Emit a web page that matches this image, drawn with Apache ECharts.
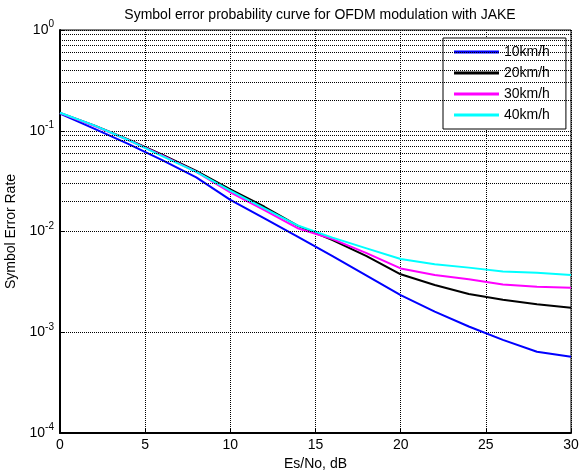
<!DOCTYPE html>
<html>
<head>
<meta charset="utf-8">
<script src="https://cdn.jsdelivr.net/npm/echarts@6/dist/echarts.min.js"></script>
<style>
  html, body { margin: 0; padding: 0; background: #fff; }
  #main { width: 579px; height: 475px; }
</style>
</head>
<body>
<div id="main"></div>
<script>
  // Es/No (dB) sample points
  var snr = [0, 2, 4, 6, 8, 10, 12, 14, 16, 18, 20, 22, 24, 26, 28, 30];
  var ser10 = [0.148, 0.105, 0.074, 0.051, 0.0345, 0.0206, 0.0135, 0.0088, 0.0057, 0.00365, 0.00234, 0.0016, 0.00114, 0.00084, 0.00064, 0.00057];
  var ser20 = [0.150, 0.113, 0.082, 0.058, 0.040, 0.0262, 0.0176, 0.0113, 0.0082, 0.0057, 0.00376, 0.00294, 0.0024, 0.0021, 0.0019, 0.00175];
  var ser30 = [0.150, 0.112, 0.081, 0.057, 0.039, 0.0245, 0.0163, 0.0107, 0.0084, 0.0061, 0.0043, 0.0037, 0.00336, 0.00298, 0.00283, 0.00277];
  var ser40 = [0.151, 0.113, 0.081, 0.056, 0.039, 0.0254, 0.0170, 0.0114, 0.0087, 0.0068, 0.00533, 0.00472, 0.00438, 0.0040, 0.0039, 0.0037];
  var names = ['10km/h', '20km/h', '30km/h', '40km/h'];
  var colors = ['#0000ff', '#000000', '#ff00ff', '#00ffff'];

  // minor log grid lines (2..9 x each decade)
  var minorGrid = [];
  [1e-4, 1e-3, 1e-2, 1e-1].forEach(function (d) {
    for (var k = 2; k <= 9; k++) minorGrid.push({ yAxis: +(d * k).toPrecision(3) });
  });

  function pairs(ys) {
    return snr.map(function (x, i) { return [x, ys[i]]; });
  }

  var chart = echarts.init(document.getElementById('main'));
  var dotted = { color: '#000', width: 1, type: [1, 1] };

  chart.setOption({
    animation: false,
    backgroundColor: '#fff',
    textStyle: { fontFamily: 'Liberation Sans, Arial, sans-serif' },
    title: {
      text: 'Symbol error probability curve for OFDM modulation with JAKE',
      left: 315,
      top: 3,
      textAlign: 'center',
      textStyle: { fontSize: 14, fontWeight: 'normal', color: '#000' }
    },
    grid: {
      left: 60, right: 8, top: 30, bottom: 42,
      outerBoundsMode: 'none',
      containLabel: false,
      show: true, borderColor: '#000', borderWidth: 1
    },
    legend: {
      data: names,
      orient: 'vertical',
      left: 443,
      top: 38,
      icon: 'rect',
      itemWidth: 45,
      itemHeight: 3,
      itemGap: 5,
      padding: [6, 16, 6, 11],
      backgroundColor: '#fff',
      borderColor: '#000',
      borderWidth: 1,
      borderRadius: 0,
      textStyle: { fontSize: 14, color: '#000', lineHeight: 16 }
    },
    xAxis: {
      type: 'value',
      min: 0, max: 30, interval: 5,
      name: 'Es/No, dB',
      nameLocation: 'middle',
      nameGap: 24,
      nameTextStyle: { fontSize: 14, color: '#000' },
      axisLine: { lineStyle: { color: '#000', width: 2 } },
      axisTick: { inside: true, length: 4, lineStyle: { color: '#000' } },
      axisLabel: { fontSize: 14, color: '#000', margin: 5 },
      splitLine: { show: true, lineStyle: dotted }
    },
    yAxis: {
      type: 'log',
      logBase: 10,
      min: 1e-4, max: 1,
      name: 'Symbol Error Rate',
      nameLocation: 'middle',
      nameGap: 40,
      nameTextStyle: { fontSize: 14, color: '#000' },
      axisLine: { show: true, lineStyle: { color: '#000', width: 2 } },
      axisTick: { inside: true, length: 4, lineStyle: { color: '#000' } },
      axisLabel: {
        margin: 6,
        formatter: function (v) {
          var e = Math.round(Math.log10(v));
          return '{b|10}{s|' + e + '}';
        },
        rich: {
          b: { fontSize: 14, color: '#000' },
          s: { fontSize: 10, color: '#000', padding: [0, 0, 11, 0] }
        }
      },
      splitLine: { show: true, lineStyle: dotted }
    },
    series: [
      {
        name: 'minor', type: 'line', data: [], silent: true,
        markLine: {
          silent: true, symbol: ['none', 'none'], label: { show: false },
          lineStyle: dotted, data: minorGrid
        }
      },
      { name: names[0], type: 'line', data: pairs(ser10), symbol: 'none', lineStyle: { color: colors[0], width: 2 }, itemStyle: { color: colors[0] } },
      { name: names[1], type: 'line', data: pairs(ser20), symbol: 'none', lineStyle: { color: colors[1], width: 2 }, itemStyle: { color: colors[1] } },
      { name: names[2], type: 'line', data: pairs(ser30), symbol: 'none', lineStyle: { color: colors[2], width: 2 }, itemStyle: { color: colors[2] } },
      { name: names[3], type: 'line', data: pairs(ser40), symbol: 'none', lineStyle: { color: colors[3], width: 2 }, itemStyle: { color: colors[3] } }
    ]
  });
</script>
</body>
</html>
